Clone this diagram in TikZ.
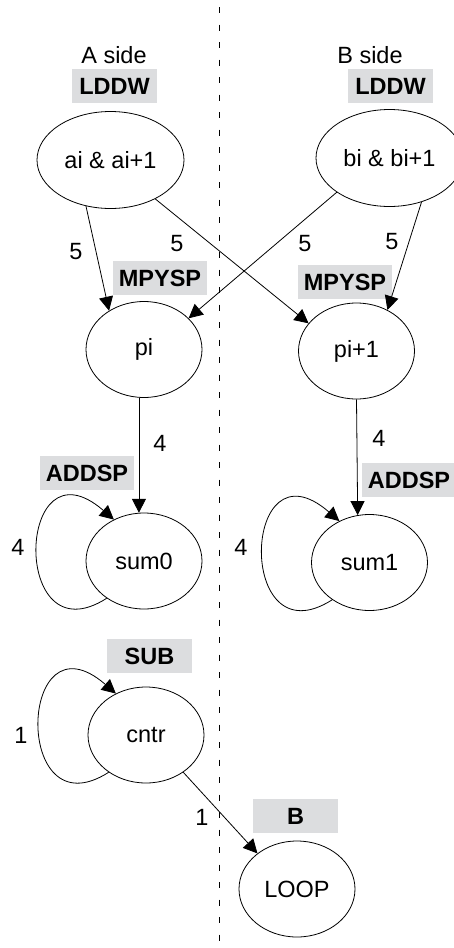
\documentclass[tikz,border=0pt]{standalone}
\usepackage{fontspec}
\setmainfont{Liberation Sans}
\usetikzlibrary{arrows.meta, shapes.geometric}
\definecolor{opgray}{RGB}{220,221,223}
\tikzset{
    value/.style = {draw, ellipse, line width = 0.8pt, minimum width = 116pt, minimum height = 96pt, inner sep = 0pt},
    opbox/.style = {fill = opgray, font = \fontsize{23.5}{28}\selectfont\bfseries, minimum width = 85pt, minimum height = 34pt, inner xsep = 6pt, inner ysep = 0pt},
    dep/.style = {-{Triangle[length = 14pt, width = 14pt]}, line width = 0.8pt},
    lat/.style = {inner sep = 0pt},
}
\begin{document}
\begin{tikzpicture}[x = 1pt, y = -1pt, every node/.append style = {font = \fontsize{23.5}{28}\selectfont}]
            \useasboundingbox (0,0) rectangle (453,948);
            % the two sides
            \draw[line width = 0.8pt, dash pattern = on 6pt off 11.5pt] (219,7) -- (219,948);
            \node (sideA) at (114,55) {A side};
            \node (sideB) at (370,55) {B side};
            % values
            \node[value, minimum width = 147pt, minimum height = 97pt] (ai) at (110.5,160) {ai \& ai+1};
            \node[value, minimum width = 147pt, minimum height = 97pt] (bi) at (389.5,158) {bi \& bi+1};
            \node[value] (pi) at (144,349.5) {pi};
            \node[value] (pi1) at (356.5,351) {pi+1};
            \node[value] (sum0) at (144,561) {sum0};
            \node[value] (sum1) at (369.5,562.5) {sum1};
            \node[value] (cntr) at (146,735) {cntr};
            \node[value] (loop) at (297,889) {LOOP};
            % instructions
            \begin{scope}[every node/.append style = {opbox}]
                \node (ldA) at (114.5,86) {LDDW};
                \node (ldB) at (390.5,86) {LDDW};
                \node (mpA) at (160,278) {MPYSP};
                \node (mpB) at (345,282) {MPYSP};
                \node (adA) at (87,473) {ADDSP};
                \node (adB) at (409,480) {ADDSP};
                \node (sub) at (149.5,656) {SUB};
                \node (br) at (295.5,816) {B};
            \end{scope}
            % dependencies
            \draw[dep] (ai.242) -- (pi.132);
            \draw[dep] (ai.-41) -- (pi1.150);
            \draw[dep] (bi.213) -- (pi.35);
            \draw[dep] (bi.-54) -- (pi1.53);
            \draw[dep] (pi.264) -- (sum0.96);
            \draw[dep] (pi1.south) -- (sum1.104);
            \draw[dep] (cntr.-45) -- (loop.138);
            \foreach \n in {sum0, sum1, cntr} {
                \draw[dep] (\n.225) .. controls +(-97,62) and +(-98,-85) .. (\n.126);
            }
            % latencies
            \begin{scope}[every node/.append style = {lat}]
                \node (l1) at (76,252) {5};
                \node (l2) at (177,244) {5};
                \node (l3) at (305,244) {5};
                \node (l4) at (392,242) {5};
                \node (l5) at (160,443) {4};
                \node (l6) at (379,438) {4};
                \node (l7) at (18,547) {4};
                \node (l8) at (241,547) {4};
                \node (l9) at (21,735) {1};
                \node (l10) at (202,817) {1};
            \end{scope}
        \end{tikzpicture}
\end{document}
